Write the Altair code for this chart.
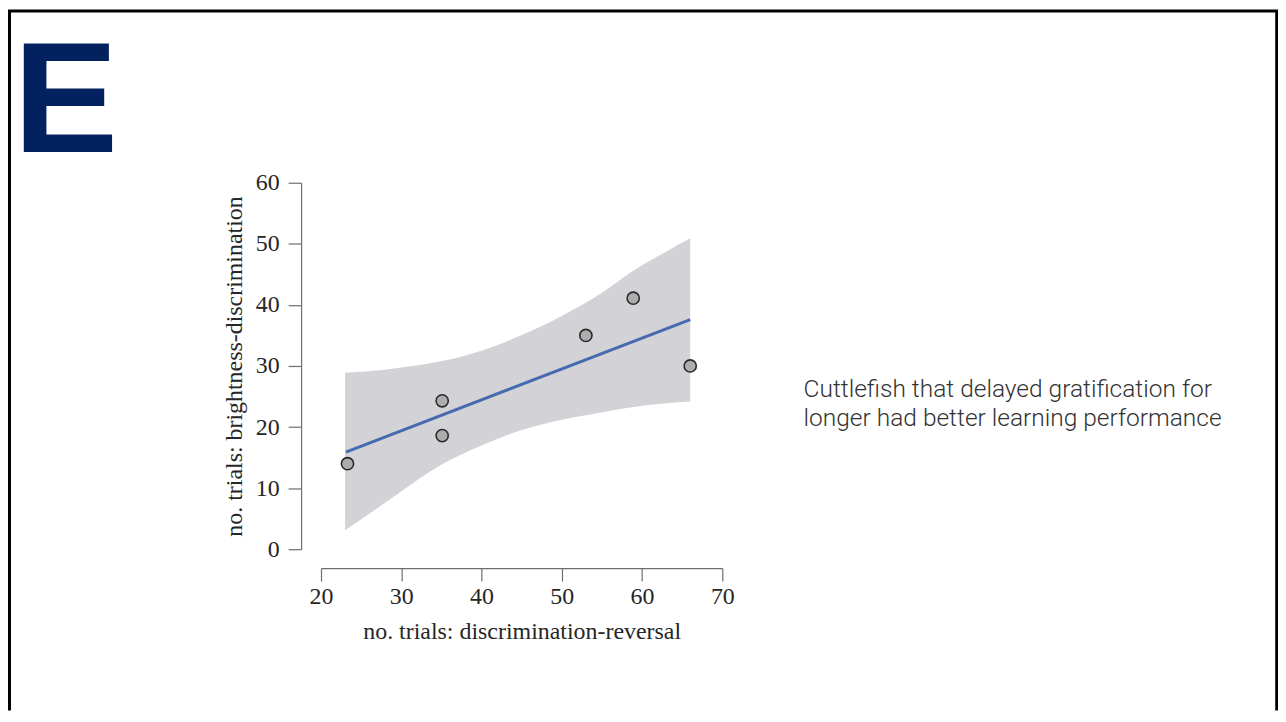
import altair as alt
import pandas as pd

# scatter points
pt_x = [23.3, 35.1, 35.1, 53.0, 58.9, 66.0]
pt_y = [14.0, 24.3, 18.6, 35.0, 41.1, 30.0]

# fitted line end points
fit_x = [23.1, 66.0]
fit_y = [15.9, 37.6]

# confidence band edges
band_x = [23.0, 28.0, 32.1, 35.1, 40.0, 44.5, 50.0, 54.9, 58.9, 63.1, 66.0]
band_lo = [3.1, 7.6, 11.4, 13.9, 17.0, 19.3, 21.2, 22.4, 23.3, 23.9, 24.2]
band_hi = [28.9, 29.4, 30.1, 30.8, 32.5, 34.8, 38.2, 41.9, 45.6, 48.8, 50.9]

x_ticks = [20, 30, 40, 50, 60, 70]
y_ticks = [0, 10, 20, 30, 40, 50, 60]

x_title = "no. trials: discrimination-reversal"
y_title = "no. trials: brightness-discrimination"
note_lines = ["Cuttlefish that delayed gratification for",
              "longer had better learning performance"]
panel_letter = "E"

pts_df = pd.DataFrame({"x": pt_x, "y": pt_y})
fit_df = pd.DataFrame({"x": fit_x, "y": fit_y})
band_df = pd.DataFrame({"x": band_x, "lo": band_lo, "hi": band_hi})
deco_df = pd.DataFrame({"k": [0]})

xscale = alt.Scale(domain=[20, 70], nice=False, zero=False)
yscale = alt.Scale(domain=[0, 60], nice=False, zero=False)
xaxis = alt.Axis(values=x_ticks, title=x_title, offset=19, tickSize=13,
                 labelPadding=4, titlePadding=11, format="d", labelFlush=False)
yaxis = alt.Axis(values=y_ticks, title=y_title, offset=20, tickSize=13,
                 labelPadding=9, titlePadding=9, format="d", labelFlush=False)

band = alt.Chart(band_df).mark_area(color="#d3d3d7", opacity=1,
                                    interpolate="monotone").encode(
    x=alt.X("x:Q", scale=xscale, axis=xaxis),
    y=alt.Y("lo:Q", scale=yscale, axis=yaxis),
    y2="hi:Q",
)

line = alt.Chart(fit_df).mark_line(color="#4669b0", strokeWidth=3).encode(
    x=alt.X("x:Q", scale=xscale, axis=xaxis),
    y=alt.Y("y:Q", scale=yscale, axis=yaxis),
)

pts = alt.Chart(pts_df).mark_circle(fill="#adadad", stroke="#2a2a2a",
                                    strokeWidth=1.6, size=150, opacity=1).encode(
    x=alt.X("x:Q", scale=xscale, axis=xaxis),
    y=alt.Y("y:Q", scale=yscale, axis=yaxis),
)

# frame (positions relative to the plot area)
FL, FR, FT, FB = -312.8, 959.7, -172.5, 530
frame_top = alt.Chart(deco_df).mark_rule(color="#000000", strokeWidth=3).encode(
    x=alt.value(FL - 1.5), x2=alt.value(FR + 1.5), y=alt.value(FT))
frame_left = alt.Chart(deco_df).mark_rule(color="#000000", strokeWidth=3).encode(
    x=alt.value(FL), y=alt.value(FT), y2=alt.value(FB))
frame_right = alt.Chart(deco_df).mark_rule(color="#000000", strokeWidth=3).encode(
    x=alt.value(FR), y=alt.value(FT), y2=alt.value(FB))

letter = alt.Chart(deco_df).mark_text(
    text=panel_letter, font="Liberation Sans", fontWeight="bold", fontSize=158,
    color="#03215f", align="left", baseline="alphabetic").encode(
    x=alt.value(-309), y=alt.value(-31))

note = alt.Chart(deco_df).mark_text(
    text=note_lines, font="Roboto", fontWeight=300, fontSize=24.6,
    color="#333333", align="left", baseline="alphabetic", lineHeight=29.5).encode(
    x=alt.value(484.6), y=alt.value(214.7))

chart = alt.layer(band, line, pts, frame_top, frame_left, frame_right,
                  letter, note).properties(
    width=403, height=368,
    autosize=alt.AutoSizeParams(type="none"),
    padding={"left": 314.3, "top": 174, "right": 558, "bottom": 162},
).configure_view(stroke=None).configure_axis(
    grid=False,
    domainColor="#6e6e6e", tickColor="#6e6e6e", domainWidth=1.2, tickWidth=1.2,
    labelFont="Liberation Serif", labelFontSize=24, labelColor="#262626",
    titleFont="Liberation Serif", titleFontSize=24, titleFontWeight="normal",
    titleColor="#262626",
)

chart.save("out.html", embed_options={"renderer": "svg", "actions": False})
